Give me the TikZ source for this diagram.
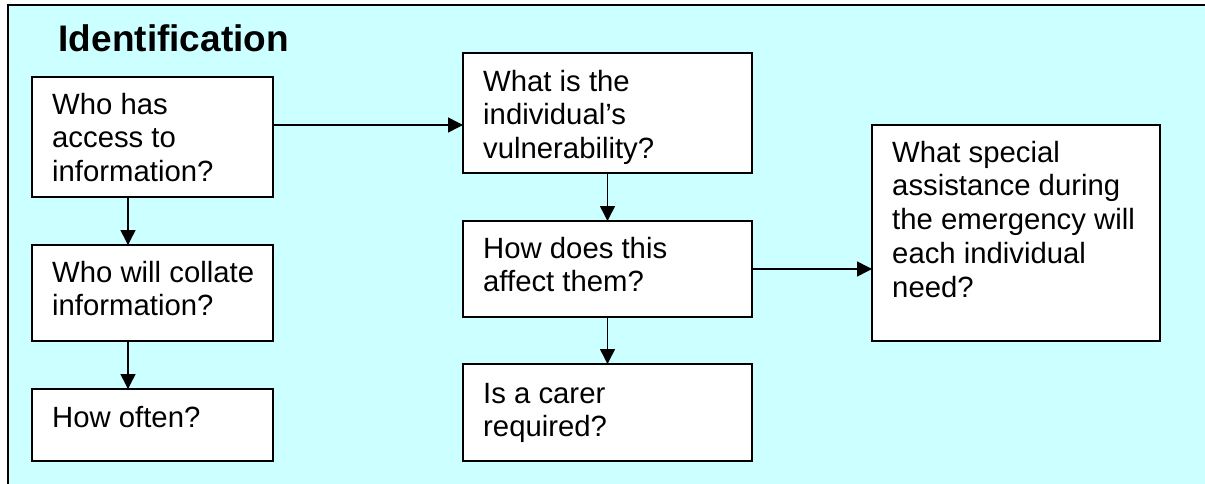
\documentclass[tikz,border=0pt]{standalone}
\usepackage{fontspec}
\setmainfont{Liberation Sans}
\usetikzlibrary{arrows.meta,calc}
\definecolor{panelcyan}{RGB}{204,255,255}
\begin{document}
\begin{tikzpicture}[x=1pt,y=-1pt,
  box/.style={draw=black, line width=2pt, fill=white, rectangle, inner sep=0pt,
              outer sep=0pt, anchor=north west},
  boxtext/.style={anchor=north west, inner sep=0pt, align=left,
                  font=\fontsize{29.3}{33.7}\selectfont},
  arr/.style={line width=1.5pt, -{Triangle[length=15pt,width=15pt]}},
]
\clip (0,0) rectangle (1205,484);
\useasboundingbox (0,0) rectangle (1205,484);

% panel background and its frame
\fill[panelcyan] (8,5) rectangle (1215,495);
\draw[line width=2pt] (8,495) -- (8,5) -- (1215,5);

% heading
\node[anchor=base west, inner sep=0pt, font=\fontsize{37}{44}\selectfont\bfseries]
  (title) at (58.5,52) {Identification};

% boxes
\node[box, minimum width=241pt, minimum height=120pt] (bA) at (32,77) {};
\node[box, minimum width=241pt, minimum height=96pt]  (bB) at (32,245) {};
\node[box, minimum width=241pt, minimum height=72pt]  (bC) at (32,389) {};
\node[box, minimum width=289pt, minimum height=120pt] (bD) at (463,53) {};
\node[box, minimum width=289pt, minimum height=96pt]  (bE) at (463,221) {};
\node[box, minimum width=289pt, minimum height=97pt]  (bF) at (463,364) {};
\node[box, minimum width=288pt, minimum height=216pt] (bG) at (872,125) {};

% box texts
\node[boxtext] (tA) at ($(bA.north west)+(20,15)$) {\rule{0pt}{22pt}Who has\\access to\\information?};
\node[boxtext] (tB) at ($(bB.north west)+(20,15)$) {\rule{0pt}{22pt}Who will collate\\information?};
\node[boxtext] (tC) at ($(bC.north west)+(20,16)$) {\rule{0pt}{22pt}How often?};
\node[boxtext] (tD) at ($(bD.north west)+(20,16)$) {\rule{0pt}{22pt}What is the\\individual’s\\vulnerability?};
\node[boxtext] (tE) at ($(bE.north west)+(20,15)$) {\rule{0pt}{22pt}How does this\\affect them?};
\node[boxtext] (tF) at ($(bF.north west)+(20,17)$) {\rule{0pt}{22pt}Is a carer\\required?};
\node[boxtext] (tG) at ($(bG.north west)+(20,15)$) {\rule{0pt}{22pt}What special\\assistance during\\the emergency will\\each individual\\need?};

% connectors
\coordinate (aOut) at ([yshift=12pt]bA.east);
\draw[arr] (aOut) -- (aOut -| bD.west);
\coordinate (aDown) at ([xshift=-24.5pt]bA.south);
\draw[arr] (aDown) -- (aDown |- bB.north);
\coordinate (bDown) at ([xshift=-24.5pt]bB.south);
\draw[arr] (bDown) -- (bDown |- bC.north);
\draw[arr] (bD.south) -- (bE.north);
\draw[arr] (bE.south) -- (bF.north);
\draw[arr] (bE.east) -- (bE.east -| bG.west);
\end{tikzpicture}
\end{document}
